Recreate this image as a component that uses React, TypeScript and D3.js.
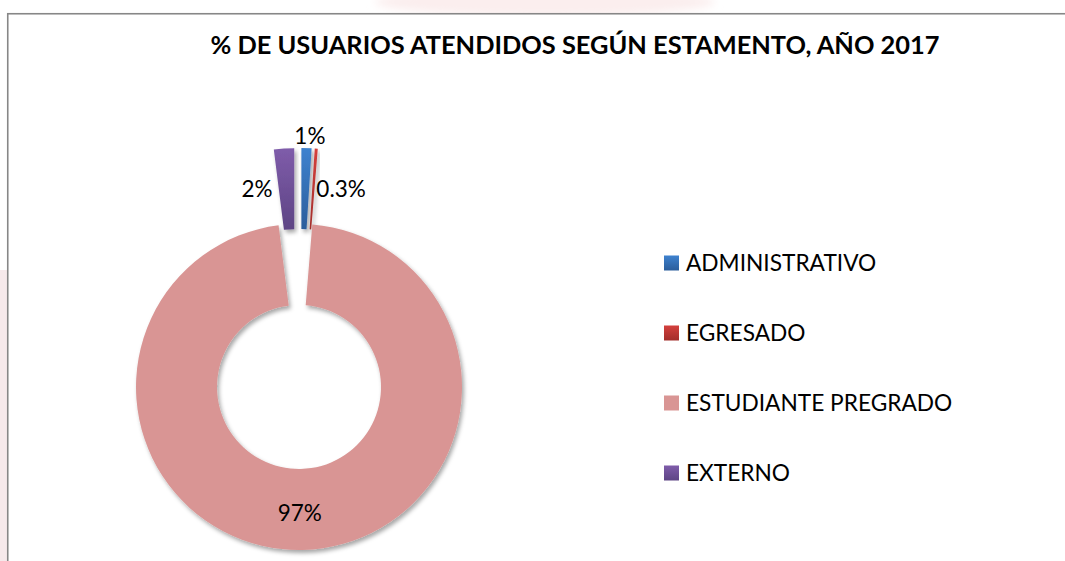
import { useEffect, useRef } from "react"
import * as d3 from "d3"

// chart data
const categories = ["ADMINISTRATIVO", "EGRESADO", "ESTUDIANTE PREGRADO", "EXTERNO"]
const values = [1.0, 0.3, 96.7, 2.0]
const valueLabels = ["1%", "0.3%", "97%", "2%"]

const title = "% DE USUARIOS ATENDIDOS SEGÚN ESTAMENTO, AÑO 2017"

// top / bottom colours of each slice (excel 2007 look)
const colorsTop = ["#3e82cf", "#d4403d", "#d99594", "#7f5caa"]
const colorsBottom = ["#2b5d9b", "#a22e2b", "#d99594", "#5d4484"]

export default function App() {
    const ref = useRef<SVGSVGElement>(null)

    useEffect(() => {
        const width = 1065
        const height = 561
        const cx = 299
        const cy = 387
        const outerR = 163
        const innerR = 82
        const explode = 76 // pulled out small slices
        const font = "Lato, 'Open Sans', sans-serif"

        const svg = d3.select(ref.current)
        svg.selectAll("*").remove()
        svg.attr("width", width).attr("height", height).attr("viewBox", [0, 0, width, height])

        const defs = svg.append("defs")
        categories.forEach((_, i) => {
            const g = defs.append("linearGradient")
                .attr("id", "grad" + i)
                .attr("x1", 0).attr("y1", 0).attr("x2", 0).attr("y2", 1)
            g.append("stop").attr("offset", "0%").attr("stop-color", colorsTop[i])
            g.append("stop").attr("offset", "100%").attr("stop-color", colorsBottom[i])
        })
        const shadow = defs.append("filter").attr("id", "shadow")
            .attr("x", "-20%").attr("y", "-20%").attr("width", "140%").attr("height", "140%")
        shadow.append("feDropShadow")
            .attr("dx", 2).attr("dy", 3).attr("stdDeviation", 2.2)
            .attr("flood-color", "#000").attr("flood-opacity", 0.35)
        const blur = defs.append("filter").attr("id", "blur")
        blur.append("feGaussianBlur").attr("stdDeviation", 4)

        svg.append("rect").attr("width", width).attr("height", height).attr("fill", "#fff")

        // faint watermark behind the chart box
        svg.append("ellipse")
            .attr("cx", 545).attr("cy", 2).attr("rx", 170).attr("ry", 14)
            .attr("fill", "#fbeeee").attr("filter", "url(#blur)")
        svg.append("rect")
            .attr("x", 0).attr("y", 270).attr("width", 7).attr("height", 291)
            .attr("fill", "#f6e9eb")

        // chart box
        svg.append("rect")
            .attr("x", 7.75).attr("y", 13.75)
            .attr("width", width + 20).attr("height", height + 20)
            .attr("fill", "#fff")
            .attr("stroke", "#878787").attr("stroke-width", 1.6)

        svg.append("text")
            .attr("x", 575).attr("y", 54)
            .attr("text-anchor", "middle")
            .attr("font-family", font).attr("font-weight", 700).attr("font-size", 25.4)
            .attr("fill", "#000")
            .text(title)

        const pie = d3.pie<number>().sort(null).value(d => d)
        const arcs = pie(values)
        const arc = d3.arc<d3.PieArcDatum<number>>().innerRadius(innerR).outerRadius(outerR)

        const offset = (d: d3.PieArcDatum<number>) => {
            const off = d.value < 50 ? explode : 0
            const mid = (d.startAngle + d.endAngle) / 2
            return [Math.sin(mid) * off, -Math.cos(mid) * off]
        }

        const slices = svg.append("g").attr("transform", `translate(${cx},${cy})`)
        slices.selectAll("path")
            .data(arcs)
            .join("path")
            .attr("transform", d => `translate(${offset(d)})`)
            .attr("d", arc)
            .attr("fill", (_, i) => `url(#grad${i})`)
            .attr("filter", "url(#shadow)")

        // data labels
        const labels = slices.append("g")
            .attr("font-family", font).attr("font-size", 22.5).attr("fill", "#000")
        labels.selectAll("text")
            .data(arcs)
            .join("text")
            .attr("dy", "0.35em")
            .each(function (d, i) {
                const [ox, oy] = offset(d)
                const [x, y] = arc.centroid(d)
                const t = d3.select(this)
                if (d.value >= 50) {
                    t.attr("x", x + ox - 2).attr("y", y + oy + 4).attr("text-anchor", "middle")
                } else if (i === 0) {
                    const mid = (d.startAngle + d.endAngle) / 2
                    const r = outerR + explode + 12
                    t.attr("x", Math.sin(mid) * r + 3).attr("y", -Math.cos(mid) * r).attr("text-anchor", "middle")
                } else if (i === 1) {
                    t.attr("x", x + ox + 3).attr("y", y + oy).attr("text-anchor", "start")
                } else {
                    t.attr("x", x + ox - 14).attr("y", y + oy).attr("text-anchor", "end")
                }
            })
            .text((_, i) => valueLabels[i])

        // legend
        const ly = d3.scalePoint<string>().domain(categories).range([263, 473])
        const legend = svg.append("g").attr("transform", "translate(664,0)")
        const rows = legend.selectAll("g")
            .data(categories)
            .join("g")
            .attr("transform", d => `translate(0,${ly(d)})`)
        rows.append("rect")
            .attr("x", 0).attr("y", -7.5).attr("width", 15).attr("height", 15)
            .attr("fill", (_, i) => `url(#grad${i})`)
        rows.append("text")
            .attr("x", 22).attr("y", 0).attr("dy", "0.36em")
            .attr("font-family", font).attr("font-size", 22.7).attr("fill", "#000")
            .text(d => d)
    }, [])

    return (
        <div style={{ position: "absolute", left: 0, top: 0 }}>
            <svg ref={ref} style={{ display: "block" }}></svg>
        </div>
    )
}
